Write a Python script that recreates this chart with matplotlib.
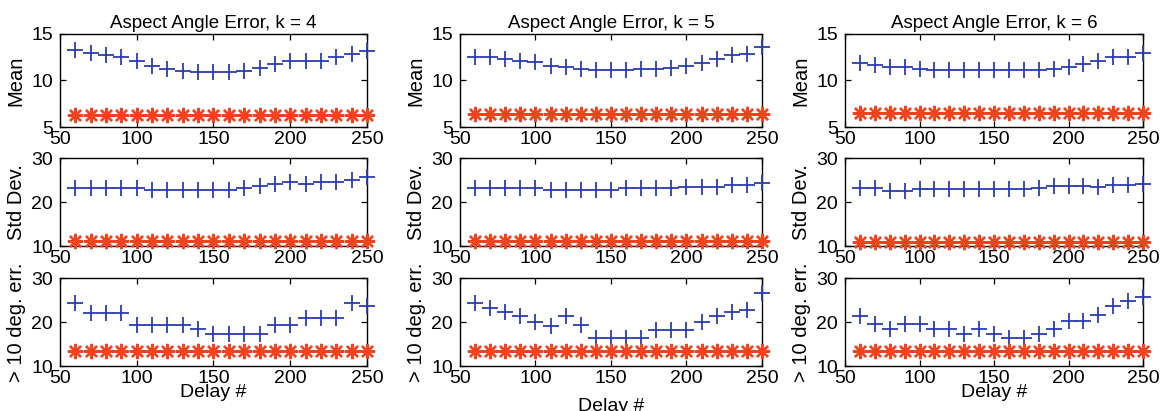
"""Aspect angle error statistics vs delay, k = 4, 5, 6."""

import matplotlib

matplotlib.use("Agg")
import matplotlib.pyplot as plt
import numpy as np

plt.rcParams["font.family"] = ["Liberation Sans", "DejaVu Sans"]

delay = [60, 70, 80, 90, 100, 110, 120, 130, 140, 150,
         160, 170, 180, 190, 200, 210, 220, 230, 240, 250]
k_values = [4, 5, 6]

# blue "+" series, one list per k
mean_k4 = [13.3, 13.0, 12.7, 12.5, 12.1, 11.6, 11.2, 11.0, 10.9, 10.9,
           10.9, 11.0, 11.3, 11.8, 12.1, 12.1, 12.1, 12.5, 12.8, 13.2]
mean_k5 = [12.5, 12.5, 12.3, 12.1, 12.0, 11.6, 11.4, 11.2, 11.1, 11.1,
           11.1, 11.2, 11.2, 11.3, 11.6, 11.9, 12.3, 12.7, 12.8, 13.6]
mean_k6 = [11.9, 11.7, 11.4, 11.4, 11.2, 11.1, 11.1, 11.1, 11.1, 11.1,
           11.1, 11.1, 11.1, 11.2, 11.4, 11.8, 12.1, 12.5, 12.5, 13.0]

std_k4 = [23.1, 23.1, 23.1, 23.1, 23.1, 22.8, 22.8, 22.8, 22.8, 22.8,
          22.8, 23.1, 23.6, 24.1, 24.5, 24.1, 24.5, 24.5, 24.9, 25.6]
std_k5 = [23.1, 23.1, 23.1, 23.1, 23.1, 22.7, 22.7, 22.7, 22.7, 22.7,
          23.1, 23.1, 23.1, 23.1, 23.5, 23.5, 23.5, 23.8, 23.8, 24.4]
std_k6 = [23.1, 23.1, 22.5, 22.5, 22.9, 22.9, 22.9, 22.9, 22.9, 22.9,
          22.9, 22.9, 23.1, 23.7, 23.7, 23.7, 23.5, 23.8, 23.8, 24.0]

err_k4 = [24.3, 22.1, 22.1, 22.1, 19.4, 19.4, 19.4, 19.4, 18.3, 17.2,
          17.2, 17.2, 17.2, 19.4, 19.4, 20.9, 20.9, 20.9, 24.3, 23.6]
err_k5 = [24.3, 23.2, 22.2, 21.3, 20.1, 19.2, 21.3, 19.4, 16.3, 16.3,
          16.3, 16.3, 18.2, 18.2, 18.2, 20.1, 21.3, 22.2, 22.8, 26.6]
err_k6 = [21.3, 19.6, 18.3, 19.6, 19.6, 18.3, 18.3, 17.3, 18.3, 17.3,
          16.4, 16.4, 17.3, 18.3, 20.3, 20.3, 21.5, 23.6, 24.7, 25.6]

# red "*" reference level, one value per k
ref_mean = [6.3, 6.4, 6.5]
ref_std = [11.2, 11.1, 11.0]
ref_err = [13.3, 13.5, 13.5]

blue_rows = [[mean_k4, mean_k5, mean_k6],
             [std_k4, std_k5, std_k6],
             [err_k4, err_k5, err_k6]]
red_rows = [ref_mean, ref_std, ref_err]
row_labels = ["Mean", "Std Dev.", "> 10 deg. err."]
row_ylims = [(5, 15), (10, 30), (10, 30)]
row_yticks = [[5, 10, 15], [10, 20, 30], [10, 20, 30]]

W, H = 1162, 411
col_px = [(60, 367), (460, 762), (845, 1143)]
row_px = [(34, 127), (158, 246), (278, 366)]
xlabel_y = [-0.20, -0.36, -0.20]

fig = plt.figure(figsize=(W / 100, H / 100), dpi=100)

for c, k in enumerate(k_values):
    x0, x1 = col_px[c]
    for r in range(3):
        y0, y1 = row_px[r]
        ax = fig.add_axes([x0 / W, 1 - y1 / H, (x1 - x0) / W, (y1 - y0) / H])
        ax.plot(delay, blue_rows[r][c], linestyle="none", marker="+",
                color="#2a3db0", markersize=11, markeredgewidth=1.3,
                clip_on=False, zorder=3)
        ax.plot(delay, np.full(len(delay), red_rows[r][c]), linestyle="none",
                marker=(8, 2, 0), color="#f0431e", markersize=11,
                markeredgewidth=1.7, clip_on=False, zorder=3)
        ax.set_xlim(50, 250)
        ax.set_ylim(*row_ylims[r])
        ax.set_xticks([50, 100, 150, 200, 250])
        ax.set_yticks(row_yticks[r])
        ax.tick_params(direction="in", length=4, width=0.9, labelsize=14,
                       top=True, right=True, pad=3)
        ax.tick_params(axis="y", pad=5)
        for s in ax.spines.values():
            s.set_linewidth(1.0)
        ax.set_ylabel(row_labels[r], fontsize=14.5, labelpad=4)
        if r == 0:
            ax.set_title(f"Aspect Angle Error, k = {k}", fontsize=13.5, pad=4)
        if r == 2:
            ax.set_xlabel("Delay #", fontsize=14)
            ax.xaxis.set_label_coords(0.5, xlabel_y[c])

fig.savefig("out.png", dpi=100)
